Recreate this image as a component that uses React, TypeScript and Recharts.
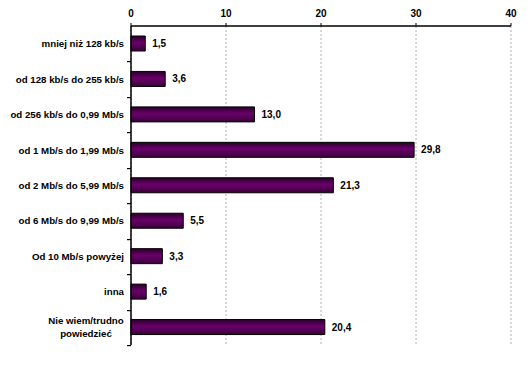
import React from "react";
import { BarChart, Bar, XAxis, YAxis, CartesianGrid, LabelList } from "recharts";

const categories: string[] = [
  "mniej niż 128 kb/s",
  "od 128 kb/s do 255 kb/s",
  "od 256 kb/s do 0,99 Mb/s",
  "od 1 Mb/s do 1,99 Mb/s",
  "od 2 Mb/s do 5,99 Mb/s",
  "od 6 Mb/s do 9,99 Mb/s",
  "Od 10 Mb/s powyżej",
  "inna",
  "Nie wiem/trudno powiedzieć",
];

const values: number[] = [1.5, 3.6, 13.0, 29.8, 21.3, 5.5, 3.3, 1.6, 20.4];

const xTicks: number[] = [0, 10, 20, 30, 40];

const data = categories.map((name, i) => ({ name, value: values[i] }));

const font = "'Liberation Sans', Arial, sans-serif";
const AXIS_X = 131;

const CategoryTick = (props: any) => {
  const { x, y, payload } = props;
  const band = (372 - 26 - 27) / categories.length;
  const lines: string[] =
    payload.value === "Nie wiem/trudno powiedzieć"
      ? ["Nie wiem/trudno", "powiedzieć"]
      : [payload.value];
  const bottom = Math.round(Number(y) + band / 2);
  const multi = lines.length > 1;
  return (
    <g>
      <rect x={AXIS_X - 4} y={bottom} width={4} height={1.2} fill="#000" />
      <text
        x={multi ? 86 : x}
        y={y}
        textAnchor={multi ? "middle" : "end"}
        fontFamily={font}
        fontSize={9.7}
        fontWeight="bold"
        fill="#000"
      >
        {lines.map((l, i) => (
          <tspan key={i} x={multi ? 86 : x} dy={i === 0 ? (multi ? -3 : 3.5) : 13}>
            {l}
          </tspan>
        ))}
      </text>
    </g>
  );
};

const App: React.FC = () => {
  return (
    <div style={{ position: "absolute", left: 0, top: 0 }}>
      <BarChart
        width={532}
        height={372}
        data={data}
        layout="vertical"
        margin={{ top: 0, right: 21, left: 0, bottom: 27 }}
        barSize={15}
      >
        <defs>
          <linearGradient id="barFill" x1="0" y1="0" x2="0" y2="1">
            <stop offset="0%" stopColor="#2a002a" />
            <stop offset="45%" stopColor="#6a006a" />
            <stop offset="100%" stopColor="#3a003a" />
          </linearGradient>
        </defs>
        <CartesianGrid
          horizontal={false}
          stroke="#b0b0b0"
          strokeDasharray="2 2"
        />
        <XAxis
          type="number"
          orientation="top"
          domain={[0, 40]}
          ticks={xTicks}
          height={26}
          axisLine={{ stroke: "#000", strokeWidth: 1.5 }}
          tickLine={{ stroke: "#000" }}
          tickSize={3}
          tick={{ fill: "#000", fontSize: 10, fontWeight: "bold", fontFamily: font }}
          tickMargin={6}
        />
        <YAxis
          type="category"
          dataKey="name"
          width={131}
          axisLine={{ stroke: "#000", strokeWidth: 1.5 }}
          tickLine={false}
          tickSize={0}
          tickMargin={7}
          tick={<CategoryTick />}
          interval={0}
        />
        <Bar
          dataKey="value"
          fill="url(#barFill)"
          stroke="#000"
          strokeWidth={1}
          isAnimationActive={false}
        >
          <LabelList
            dataKey="value"
            position="right"
            offset={7}
            formatter={(v: any) => Number(v).toFixed(1).replace(".", ",")}
            style={{ fill: "#000", fontSize: 10, fontWeight: "bold", fontFamily: font }}
          />
        </Bar>
      </BarChart>
    </div>
  );
};

export default App;
